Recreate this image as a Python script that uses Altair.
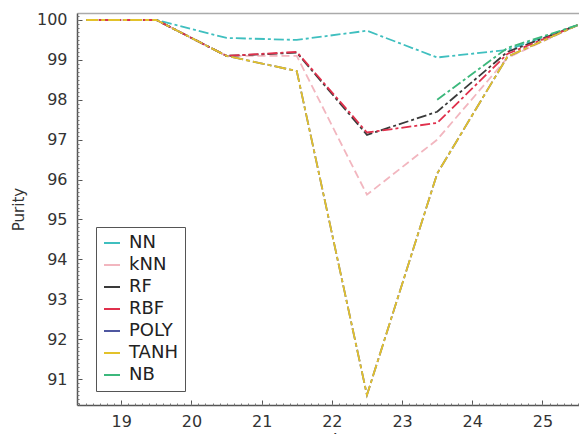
import altair as alt
import pandas as pd
import numpy as np

x_vals = [18.5, 19.5, 20.5, 21.5, 22.5, 23.5, 24.5, 25.5]
models = ["NN", "kNN", "RF", "RBF", "POLY", "TANH", "NB"]
colors = ["#3fbfbf", "#f2b6bf", "#3a3a3a", "#e0304c", "#4f57a0", "#e3c22a", "#3cb87c"]
dashes = [[10, 3, 3, 3], [8, 4], [10, 3, 3, 3], [10, 3, 3, 3], [12, 3, 4, 3], [12, 3, 4, 3], [10, 3, 3, 3]]

nn = [100, 100, 99.55, 99.5, 99.73, 99.06, 99.25, 99.87]
knn = [100, 100, 99.1, 99.1, 95.62, 97.0, 99.05, 99.87]
rf = [100, 100, 99.1, 99.18, 97.12, 97.7, 99.2, 99.87]
rbf = [100, 100, 99.1, 99.2, 97.18, 97.42, 99.15, 99.87]
poly = [100, 100, 99.1, 98.72, 90.6, 96.15, 99.08, 99.87]
tanh = [100, 100, 99.1, 98.72, 90.6, 96.15, 99.08, 99.87]
nb = [None, None, None, None, None, 98.0, 99.3, 99.87]

series = {"NN": nn, "kNN": knn, "RF": rf, "RBF": rbf, "POLY": poly, "TANH": tanh, "NB": nb}
rows = []
for i, m in enumerate(models):
    for x, v in zip(x_vals, series[m]):
        if v is not None:
            rows.append({"x": x, "purity": v, "model": m, "k": i})
df = pd.DataFrame(rows)

x_major = [19, 20, 21, 22, 23, 24, 25]
y_major = [91, 92, 93, 94, 95, 96, 97, 98, 99, 100]
x_minor = [round(v, 1) for v in np.arange(18.4, 25.51, 0.1)]
y_minor = [round(v, 1) for v in np.arange(90.4, 100.11, 0.1)]

W, H = 502, 392
xs = alt.Scale(domain=[18.37, 25.52], nice=False, zero=False)
ys = alt.Scale(domain=[90.35, 100.175], nice=False, zero=False)
FONT = "DejaVu Sans"

lines = alt.Chart(df).mark_line(strokeWidth=1.8).encode(
    x=alt.X("x:Q", scale=xs, axis=alt.Axis(
        orient="bottom", values=x_major, title="L", ticks=False, tickSize=0, grid=False,
        labelFontSize=16, labelFont=FONT, labelColor="#333", labelPadding=8,
        titleFont=FONT, titleFontSize=17, titleFontWeight="normal", titleColor="#333", titlePadding=3,
        titleX=260, domainColor="#555", domainWidth=1.5)),
    y=alt.Y("purity:Q", scale=ys, axis=alt.Axis(
        orient="left", values=y_major, title="Purity", ticks=False, tickSize=0, grid=False,
        labelFontSize=16, labelFont=FONT, labelColor="#333", labelPadding=10,
        titleFont=FONT, titleFontSize=15, titleFontWeight="normal", titleColor="#333", titlePadding=10,
        domainColor="#555", domainWidth=1.5)),
    color=alt.Color("model:N", sort=models, scale=alt.Scale(domain=models, range=colors),
                    legend=alt.Legend(title=None, orient="none", legendX=19, legendY=214,
                                      symbolType="stroke", symbolSize=256, symbolStrokeWidth=2,
                                      labelFontSize=18, labelFont=FONT, labelColor="#222",
                                      labelOffset=8, rowPadding=4, padding=7,
                                      strokeColor="#555", fillColor="white")),
    strokeDash=alt.StrokeDash("k:O", scale=alt.Scale(domain=list(range(7)), range=dashes), legend=None),
    detail="k:O",
)

major = alt.Chart(df).mark_point(opacity=0).encode(
    x=alt.X("x:Q", scale=xs, axis=alt.Axis(orient="bottom", values=x_major, labels=False, domain=False,
                                            grid=False, title=None, tickSize=5, offset=-5, tickColor="#555")),
    y=alt.Y("purity:Q", scale=ys, axis=alt.Axis(orient="left", values=y_major, labels=False, domain=False,
                                                 grid=False, title=None, tickSize=5, offset=-5, tickColor="#555")),
)

minor = alt.Chart(df).mark_point(opacity=0).encode(
    x=alt.X("x:Q", scale=xs, axis=alt.Axis(orient="bottom", values=x_minor, labels=False, domain=False,
                                            grid=False, title=None, tickSize=2, offset=-2, tickColor="#777")),
    y=alt.Y("purity:Q", scale=ys, axis=alt.Axis(orient="left", values=y_minor, labels=False, domain=False,
                                                 grid=False, title=None, tickSize=2, offset=-2, tickColor="#777")),
)

frame = alt.Chart(df).mark_point(opacity=0).encode(
    x=alt.X("x:Q", scale=xs, axis=alt.Axis(orient="top", labels=False, ticks=False, domain=True,
                                            grid=False, title=None, domainColor="#aaa", domainWidth=1.5)),
)

chart = alt.layer(lines, major, minor, frame).resolve_axis(x="independent", y="independent").properties(
    width=W, height=H,
    autosize=alt.AutoSizeParams(type="none"),
    padding={"left": 69, "top": 5, "right": 0, "bottom": 29},
    background="white",
).configure_view(stroke=None)

chart.save("out.html", embed_options={"renderer": "svg", "actions": False})
